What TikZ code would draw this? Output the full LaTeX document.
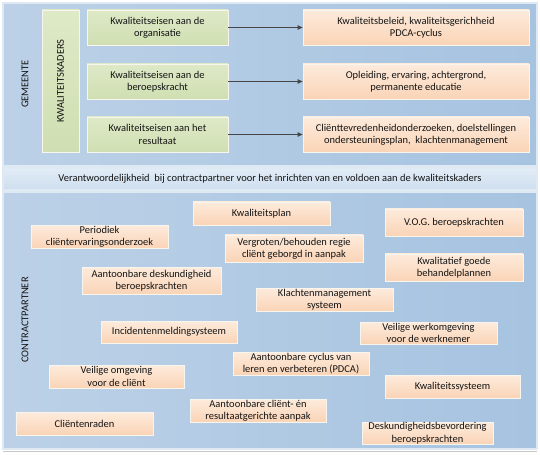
\documentclass[tikz,border=0pt]{standalone}
\usepackage{fontspec}
\setmainfont{Carlito}
\usetikzlibrary{arrows.meta,shadows}
\definecolor{panelL}{RGB}{188,209,231}
\definecolor{panelR}{RGB}{166,195,224}
\definecolor{panelEdge}{RGB}{222,233,244}
\definecolor{bandT}{RGB}{226,236,246}
\definecolor{bandB}{RGB}{205,222,239}
\definecolor{greenT}{RGB}{222,233,199}
\definecolor{greenB}{RGB}{208,223,178}
\definecolor{orT}{RGB}{253,235,220}
\definecolor{orB}{RGB}{250,212,182}
\definecolor{boxEdge}{RGB}{248,244,238}
\definecolor{arrowC}{RGB}{70,70,70}
\definecolor{txt}{RGB}{20,20,20}
\tikzset{
  panel/.style={left color=panelL,right color=panelR,draw=panelEdge,line width=1.2pt},
  band/.style={top color=bandT,bottom color=bandB,draw=panelEdge,line width=1.2pt},
  gbox/.style={top color=greenT,bottom color=greenB,draw=boxEdge,line width=0.8pt,
    align=center,inner sep=0pt,text=txt,font=\fontsize{10.5}{12.5}\selectfont,
    drop shadow={opacity=0.25,shadow xshift=0.8pt,shadow yshift=-0.8pt}},
  obox/.style={top color=orT,bottom color=orB,draw=boxEdge,line width=0.8pt,
    align=center,inner sep=0pt,text=txt,font=\fontsize{10.5}{12.5}\selectfont,
    drop shadow={opacity=0.25,shadow xshift=0.8pt,shadow yshift=-0.8pt}},
  sidelabel/.style={rotate=90,text=txt,font=\fontsize{10.5}{12}\selectfont},
  conn/.style={draw=arrowC,line width=0.8pt,-{Triangle[length=5pt,width=4.5pt]}},
}
\begin{document}
\begin{tikzpicture}[x=1bp,y=-1bp]
\useasboundingbox (0,0) rectangle (540,455);
\fill[white] (0,0) rectangle (540,455);
\draw[panel] (3,3) rectangle (537,166);
\draw[band] (3,168) rectangle (537,190);
\draw[panel] (3,192) rectangle (537,449);
\draw[draw={rgb,255:red,200;green,200;blue,200},line width=1pt] (3,451) -- (537,451);

\node[sidelabel] (gem) at (25,84) {GEMEENTE};
\node[sidelabel] (cp) at (25,320) {CONTRACTPARTNER};

\node[gbox,minimum width=37bp,minimum height=142bp] (kk) at (60.5,81) {};
\node[sidelabel] (kkt) at (kk.center) {KWALITEITSKADERS};

\node[gbox,minimum width=141bp,minimum height=35bp] (g1) at (157.5,27.5) {Kwaliteitseisen aan de\\organisatie};
\node[gbox,minimum width=141bp,minimum height=35bp] (g2) at (157.5,81.5) {Kwaliteitseisen aan de\\beroepskracht};
\node[gbox,minimum width=141bp,minimum height=35bp] (g3) at (157.5,134.5) {Kwaliteitseisen aan het\\resultaat};

\node[obox,minimum width=226bp,minimum height=35bp] (o1) at (416,27.5) {Kwaliteitsbeleid, kwaliteitsgerichheid\\PDCA-cyclus};
\node[obox,minimum width=226bp,minimum height=35bp] (o2) at (416,81.5) {Opleiding, ervaring, achtergrond,\\permanente educatie};
\node[obox,minimum width=226bp,minimum height=35bp] (o3) at (416,134.5) {Cliënttevredenheidonderzoeken, doelstellingen\\ondersteuningsplan,\ \ klachtenmanagement};

\draw[conn] (g1) -- (o1);
\draw[conn] (g2) -- (o2);
\draw[conn] (g3) -- (o3);

\node[text=txt,font=\fontsize{10.5}{12}\selectfont] (band) at (270,179) {Verantwoordelijkheid\ \ bij contractpartner voor het inrichten van en voldoen aan de kwaliteitskaders};

\node[obox,minimum width=137bp,minimum height=23bp] (kp) at (261.5,213.5) {Kwaliteitsplan};
\node[obox,minimum width=138bp,minimum height=27bp] (vog) at (454,222.5) {V.O.G. beroepskrachten};
\node[obox,minimum width=137bp,minimum height=23bp] (per) at (99.5,237) {Periodiek\\cliëntervaringsonderzoek};
\node[obox,minimum width=138bp,minimum height=27bp] (ver) at (294,248.5) {Vergroten/behouden regie\\cliënt geborgd in aanpak};
\node[obox,minimum width=138bp,minimum height=27bp] (kwal) at (454,267.5) {Kwalitatief goede\\behandelplannen};
\node[obox,minimum width=139bp,minimum height=27bp] (aant) at (151.5,280.5) {Aantoonbare deskundigheid\\beroepskrachten};
\node[obox,minimum width=137bp,minimum height=23bp] (kla) at (324.5,299.5) {Klachtenmanagement\\systeem};
\node[obox,minimum width=136bp,minimum height=22bp] (inc) at (169,332) {Incidentenmeldingsysteem};
\node[obox,minimum width=137bp,minimum height=22bp] (vw) at (428.5,333) {Veilige werkomgeving\\voor de werknemer};
\node[obox,minimum width=136bp,minimum height=23bp] (cyc) at (301,363.5) {Aantoonbare cyclus van\\leren en verbeteren (PDCA)};
\node[obox,minimum width=135bp,minimum height=23bp] (vo) at (116.5,376.5) {Veilige omgeving\\voor de cliënt};
\node[obox,minimum width=135bp,minimum height=23bp] (ks) at (452.5,386.5) {Kwaliteitssysteem};
\node[obox,minimum width=136bp,minimum height=23bp] (acr) at (258,410.5) {Aantoonbare cliënt- én\\resultaatgerichte aanpak};
\node[obox,minimum width=137bp,minimum height=23bp] (cr) at (84.5,423.5) {Cliëntenraden};
\node[obox,minimum width=131bp,minimum height=22bp] (desk) at (427.5,433) {Deskundigheidsbevordering\\beroepskrachten};
\end{tikzpicture}
\end{document}
